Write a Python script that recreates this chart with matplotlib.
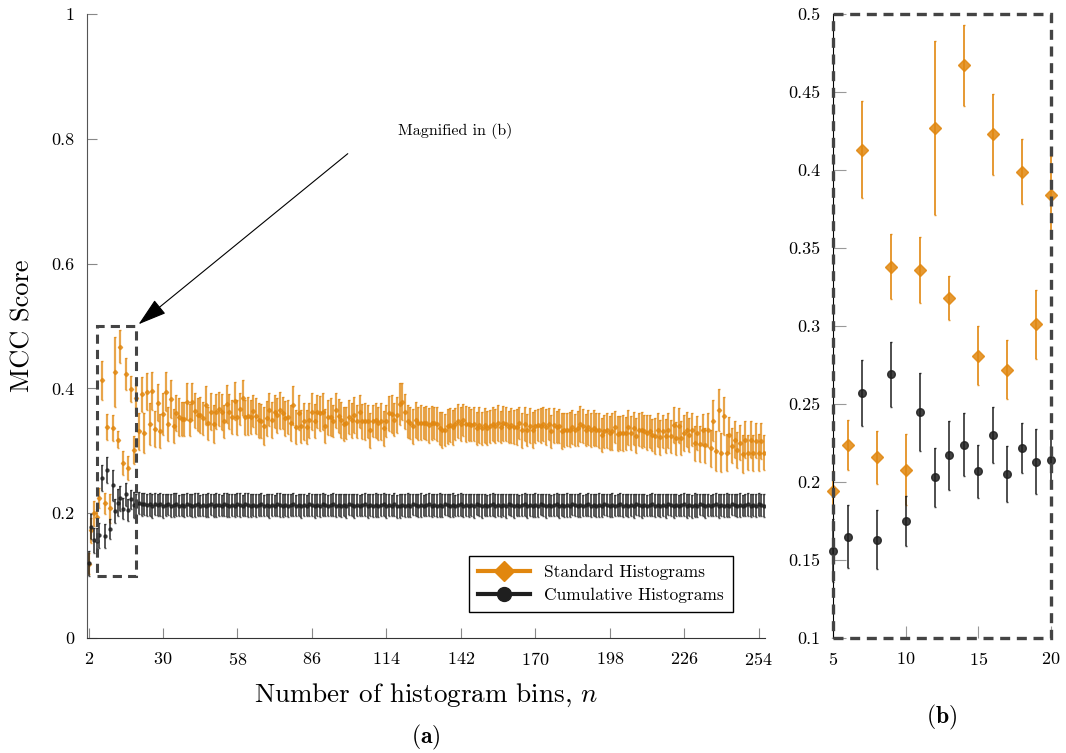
import numpy as np
import matplotlib
matplotlib.use("Agg")
import matplotlib.pyplot as plt
from matplotlib.lines import Line2D
from matplotlib.patches import Rectangle

plt.rcParams['font.family'] = 'serif'
plt.rcParams['font.serif'] = ['cmr10']
plt.rcParams['mathtext.fontset'] = 'cm'
plt.rcParams['axes.formatter.use_mathtext'] = True

# Standard histograms: mean MCC for n = 2, 3, ..., 256
std_mean = [
    0.119, 0.173, 0.200, 0.194, 0.224, 0.413, 0.216, 0.338, 0.208, 0.336,
    0.427, 0.318, 0.467, 0.281, 0.423, 0.272, 0.399, 0.301, 0.384,
    0.331, 0.391, 0.329, 0.395, 0.343, 0.396, 0.335, 0.377, 0.332, 0.359,
    0.395, 0.343, 0.383, 0.340,
    0.360, 0.354, 0.351, 0.351, 0.379, 0.349, 0.379, 0.364, 0.358, 0.358,
    0.352, 0.373, 0.344, 0.363, 0.343, 0.363, 0.367, 0.362, 0.347, 0.375,
    0.363, 0.354, 0.380, 0.354, 0.367, 0.385, 0.354, 0.356, 0.354, 0.364,
    0.356, 0.349,
    0.348, 0.340, 0.352, 0.366, 0.349, 0.363, 0.357, 0.365, 0.361, 0.352,
    0.354, 0.345, 0.373, 0.338, 0.361, 0.339, 0.347, 0.338, 0.349, 0.363,
    0.348, 0.363, 0.360, 0.363, 0.340, 0.354, 0.354, 0.348, 0.365, 0.356,
    0.349, 0.343, 0.345, 0.354, 0.349, 0.357, 0.347, 0.363, 0.347, 0.347,
    0.347, 0.333, 0.348,
    0.349, 0.344, 0.347, 0.336, 0.348, 0.360, 0.359, 0.350, 0.357, 0.375,
    0.379, 0.363, 0.347, 0.345, 0.339, 0.350, 0.344, 0.345, 0.345, 0.345,
    0.341, 0.345, 0.345, 0.343, 0.336, 0.333, 0.333, 0.339, 0.341, 0.338,
    0.343, 0.348, 0.343, 0.349, 0.343, 0.343, 0.341, 0.343, 0.336, 0.341,
    0.336, 0.341, 0.337, 0.339, 0.343, 0.340, 0.345, 0.338, 0.344,
    0.343, 0.338, 0.341, 0.338, 0.338, 0.345, 0.333, 0.343, 0.333, 0.340,
    0.334, 0.339, 0.341, 0.340, 0.343, 0.338, 0.343, 0.331, 0.341, 0.338,
    0.340, 0.332, 0.333, 0.334, 0.334, 0.338, 0.333, 0.336, 0.343, 0.340,
    0.333, 0.338, 0.333, 0.336, 0.334, 0.333, 0.325, 0.331, 0.333, 0.328,
    0.331, 0.338, 0.327, 0.328, 0.328, 0.328, 0.338,
    0.329, 0.336, 0.324, 0.334, 0.333, 0.332, 0.329, 0.331, 0.325, 0.324,
    0.333, 0.322, 0.331, 0.324, 0.333, 0.323, 0.341, 0.320, 0.340, 0.320,
    0.329, 0.334, 0.325, 0.334, 0.312, 0.329, 0.311, 0.333, 0.309, 0.333,
    0.304, 0.348, 0.300, 0.365, 0.297, 0.356, 0.297, 0.325, 0.308, 0.318,
    0.301, 0.313, 0.295, 0.318, 0.297, 0.318, 0.297, 0.316, 0.297, 0.316,
    0.297,
]
std_err = [
    0.017, 0.020, 0.020, 0.013, 0.016, 0.031, 0.017, 0.021, 0.023, 0.021,
    0.056, 0.014, 0.026, 0.019, 0.026, 0.019, 0.021, 0.022, 0.025,
    0.030, 0.028, 0.032, 0.030, 0.034, 0.031, 0.029, 0.030, 0.027, 0.033,
    0.031, 0.028, 0.030, 0.027, 0.029, 0.031, 0.027, 0.028, 0.030, 0.026,
    0.030, 0.028, 0.027, 0.029, 0.026, 0.031, 0.027, 0.029, 0.030, 0.028,
    0.027, 0.029, 0.026, 0.030, 0.028, 0.027, 0.031, 0.028, 0.026, 0.029,
    0.028, 0.030, 0.027, 0.026, 0.029, 0.028, 0.027, 0.030, 0.028, 0.026,
    0.029, 0.027, 0.028, 0.030, 0.026, 0.028, 0.027, 0.029, 0.031, 0.027,
    0.028, 0.026, 0.029, 0.027, 0.028, 0.030, 0.027, 0.026, 0.028, 0.029,
    0.027, 0.028, 0.030, 0.026, 0.028, 0.027, 0.029, 0.028, 0.026, 0.027,
    0.028, 0.029, 0.027, 0.026, 0.028, 0.030, 0.027, 0.028, 0.026, 0.028,
    0.027, 0.029, 0.028, 0.026, 0.028, 0.030, 0.027, 0.029, 0.033, 0.030,
    0.028, 0.027, 0.026, 0.028, 0.029, 0.027, 0.028, 0.026, 0.027, 0.028,
    0.027, 0.026, 0.028, 0.027, 0.029, 0.026, 0.028, 0.027, 0.028, 0.026,
    0.027, 0.028, 0.026, 0.029, 0.027, 0.026, 0.028, 0.027, 0.029, 0.026,
    0.028, 0.027, 0.026, 0.028, 0.027, 0.029, 0.026, 0.028, 0.027, 0.026,
    0.028, 0.027, 0.029, 0.026, 0.028, 0.027, 0.026, 0.028, 0.029, 0.027,
    0.026, 0.028, 0.027, 0.029, 0.026, 0.027, 0.028, 0.026, 0.027, 0.029,
    0.027, 0.026, 0.028, 0.027, 0.026, 0.028, 0.029, 0.027, 0.026, 0.028,
    0.027, 0.029, 0.026, 0.028, 0.027, 0.026, 0.028, 0.027, 0.029, 0.026,
    0.028, 0.027, 0.029, 0.026, 0.028, 0.027, 0.026, 0.028, 0.027, 0.029,
    0.026, 0.028, 0.027, 0.026, 0.029, 0.027, 0.028, 0.026, 0.027, 0.028,
    0.027, 0.029, 0.026, 0.028, 0.027, 0.029, 0.028, 0.027, 0.026, 0.028,
    0.027, 0.029, 0.026, 0.028, 0.027, 0.030, 0.033, 0.032, 0.034, 0.031,
    0.031, 0.030, 0.029, 0.028, 0.030, 0.029, 0.028, 0.030, 0.029, 0.028,
    0.030, 0.029, 0.028, 0.030, 0.029, 0.028,
]

# Cumulative histograms: mean MCC for n = 2, 3, ..., 256
cum_mean = [
    0.120, 0.178, 0.157, 0.156, 0.165, 0.257, 0.163, 0.269, 0.175, 0.245,
    0.203, 0.217, 0.224, 0.207, 0.230, 0.205, 0.222, 0.213, 0.214,
    0.216, 0.214, 0.215, 0.213, 0.214, 0.212, 0.215, 0.213, 0.214, 0.212,
    0.213, 0.214, 0.212, 0.213, 0.214, 0.212, 0.213, 0.212, 0.214, 0.213,
    0.212, 0.213, 0.214, 0.212, 0.213, 0.212, 0.213, 0.214, 0.212, 0.213,
    0.213, 0.212, 0.214, 0.213, 0.212, 0.213, 0.212, 0.214, 0.213, 0.212,
    0.214, 0.213, 0.212, 0.213, 0.212, 0.213, 0.214, 0.212, 0.213, 0.212,
    0.213, 0.212, 0.214, 0.213, 0.212, 0.213, 0.212, 0.213, 0.214, 0.212,
    0.213, 0.212, 0.213, 0.212, 0.214, 0.213, 0.212, 0.213, 0.212, 0.214,
    0.213, 0.212, 0.213, 0.214, 0.212, 0.213, 0.212, 0.213, 0.212, 0.214,
    0.213, 0.212, 0.213, 0.212, 0.213, 0.214, 0.212, 0.213, 0.212, 0.213,
    0.212, 0.213, 0.214, 0.212, 0.213, 0.212, 0.214, 0.211, 0.212, 0.213,
    0.212, 0.213, 0.212, 0.214, 0.213, 0.212, 0.213, 0.212, 0.213, 0.214,
    0.212, 0.213, 0.212, 0.213, 0.212, 0.214, 0.213, 0.212, 0.213, 0.212,
    0.213, 0.214, 0.212, 0.213, 0.212, 0.213, 0.212, 0.214, 0.213, 0.212,
    0.213, 0.212, 0.213, 0.214, 0.212, 0.213, 0.212, 0.213, 0.212, 0.214,
    0.213, 0.212, 0.213, 0.212, 0.213, 0.214, 0.212, 0.213, 0.212, 0.213,
    0.212, 0.214, 0.213, 0.212, 0.213, 0.212, 0.213, 0.214, 0.212, 0.213,
    0.212, 0.213, 0.212, 0.214, 0.213, 0.212, 0.213, 0.212, 0.213, 0.214,
    0.212, 0.213, 0.212, 0.213, 0.212, 0.214, 0.213, 0.212, 0.213, 0.212,
    0.213, 0.214, 0.212, 0.213, 0.212, 0.213, 0.212, 0.214, 0.213, 0.212,
    0.213, 0.212, 0.213, 0.214, 0.212, 0.213, 0.212, 0.213, 0.212, 0.214,
    0.213, 0.212, 0.213, 0.212, 0.213, 0.214, 0.212, 0.213, 0.211, 0.213,
    0.212, 0.214, 0.213, 0.212, 0.213, 0.212, 0.213, 0.214, 0.212, 0.213,
    0.212, 0.213, 0.212, 0.214, 0.213, 0.212, 0.213, 0.212, 0.213, 0.214,
    0.212, 0.213, 0.212, 0.214, 0.213, 0.212,
]
cum_err = [
    0.020, 0.020, 0.020, 0.020, 0.020, 0.021, 0.019, 0.021, 0.016, 0.025,
    0.019, 0.022, 0.020, 0.017, 0.018, 0.018, 0.016, 0.021, 0.017,
    0.018, 0.019, 0.018, 0.017, 0.018, 0.019, 0.018, 0.017, 0.018, 0.019,
    0.018, 0.017, 0.018, 0.019, 0.018, 0.017, 0.018, 0.018, 0.019, 0.017,
    0.018, 0.019, 0.018, 0.017, 0.018, 0.018, 0.019, 0.017, 0.018, 0.019,
    0.018, 0.017, 0.018, 0.019, 0.018, 0.017, 0.018, 0.018, 0.019, 0.017,
    0.018, 0.019, 0.018, 0.017, 0.018, 0.018, 0.019, 0.017, 0.018, 0.019,
    0.018, 0.017, 0.018, 0.019, 0.018, 0.017, 0.018, 0.018, 0.019, 0.017,
    0.018, 0.019, 0.018, 0.017, 0.018, 0.018, 0.019, 0.017, 0.018, 0.019,
    0.018, 0.017, 0.018, 0.019, 0.018, 0.017, 0.018, 0.018, 0.019, 0.017,
    0.018, 0.019, 0.018, 0.017, 0.018, 0.018, 0.019, 0.017, 0.018, 0.019,
    0.018, 0.017, 0.018, 0.019, 0.018, 0.017, 0.018, 0.018, 0.019, 0.017,
    0.018, 0.019, 0.018, 0.017, 0.018, 0.018, 0.019, 0.017, 0.018, 0.019,
    0.018, 0.017, 0.018, 0.019, 0.018, 0.017, 0.018, 0.018, 0.019, 0.017,
    0.018, 0.019, 0.018, 0.017, 0.018, 0.018, 0.019, 0.017, 0.018, 0.019,
    0.018, 0.017, 0.018, 0.019, 0.018, 0.017, 0.018, 0.018, 0.019, 0.017,
    0.018, 0.019, 0.018, 0.017, 0.018, 0.018, 0.019, 0.017, 0.018, 0.019,
    0.018, 0.017, 0.018, 0.019, 0.018, 0.017, 0.018, 0.018, 0.019, 0.017,
    0.018, 0.019, 0.018, 0.017, 0.018, 0.018, 0.019, 0.017, 0.018, 0.019,
    0.018, 0.017, 0.018, 0.019, 0.018, 0.017, 0.018, 0.018, 0.019, 0.017,
    0.018, 0.019, 0.018, 0.017, 0.018, 0.018, 0.019, 0.017, 0.018, 0.019,
    0.018, 0.017, 0.018, 0.019, 0.018, 0.017, 0.018, 0.018, 0.019, 0.017,
    0.018, 0.019, 0.018, 0.017, 0.018, 0.018, 0.019, 0.017, 0.018, 0.019,
    0.018, 0.017, 0.018, 0.019, 0.018, 0.017, 0.018, 0.018, 0.019, 0.017,
    0.018, 0.019, 0.018, 0.017, 0.018, 0.018, 0.019, 0.017, 0.018, 0.019,
    0.018, 0.017, 0.018, 0.019, 0.018, 0.018,
]

xticks_a = [2, 30, 58, 86, 114, 142, 170, 198, 226, 254]
yticks_a = [0, 0.2, 0.4, 0.6, 0.8, 1]
ylabels_a = ["0", "0.2", "0.4", "0.6", "0.8", "1"]
xticks_b = [5, 10, 15, 20]
yticks_b = [0.1, 0.15, 0.2, 0.25, 0.3, 0.35, 0.4, 0.45, 0.5]
ylabels_b = ["0.1", "0.15", "0.2", "0.25", "0.3", "0.35", "0.4", "0.45", "0.5"]

ORANGE = '#E1870F'
BLACK = '#1f1f1f'

ms_ = min(len(std_mean), len(std_err))
mc_ = min(len(cum_mean), len(cum_err))
n_s = np.arange(2, 2 + ms_)
n_c = np.arange(2, 2 + mc_)
sm, se = np.array(std_mean[:ms_]), np.array(std_err[:ms_])
cm, ce = np.array(cum_mean[:mc_]), np.array(cum_err[:mc_])

fig = plt.figure(figsize=(10.66, 7.53), dpi=100)
ax = fig.add_axes([0.0816, 0.1527, 0.636, 0.8287])
axb = fig.add_axes([0.7814, 0.1527, 0.2045, 0.8287])

# (a) full range
ax.errorbar(n_s, sm, yerr=se, fmt='D', ms=2.2, color=ORANGE, ecolor=ORANGE,
            elinewidth=1.6, capsize=1, alpha=0.75, zorder=2)
ax.errorbar(n_c, cm, yerr=ce, fmt='o', ms=2.2, color=BLACK, ecolor=BLACK,
            elinewidth=1.4, capsize=1, alpha=0.75, zorder=3)
ax.set_xlim(1.4, 256.4)
ax.set_ylim(0, 1)
ax.set_xticks(xticks_a)
ax.set_yticks(yticks_a)
ax.set_yticklabels(ylabels_a)
for s in ['top', 'right']:
    ax.spines[s].set_visible(False)
ax.spines['left'].set_color('#555555')
ax.spines['bottom'].set_color('#333333')
ax.tick_params(direction='in', length=7, color='#888888', labelsize=13, pad=9)
ax.set_ylabel("MCC Score", fontsize=19, labelpad=12)
ax.set_xlabel("Number of histogram bins, $n$", fontsize=19.5, labelpad=10)
ax.text(0.5, -0.159, r"$\mathbf{(a)}$", transform=ax.transAxes, ha='center',
        va='center', fontsize=17)

ax.add_patch(Rectangle((5, 0.1), 15, 0.4, fill=False, ls=(0, (3, 2)),
                       lw=2.2, ec='#444444', zorder=4))
ax.annotate("", xy=(20, 0.5), xytext=(100.3, 0.779),
            arrowprops=dict(arrowstyle='-|>,head_length=1.8,head_width=0.55',
                            color='black', lw=0.8))
ax.text(139.8, 0.8125, "Magnified in (b)", ha='center', va='center', fontsize=11.5)

handles = [Line2D([], [], color=ORANGE, lw=3, marker='D', ms=10),
           Line2D([], [], color=BLACK, lw=3, marker='o', ms=10)]
leg = ax.legend(handles, ["Standard Histograms", "Cumulative Histograms"],
                loc='lower right', bbox_to_anchor=(0.965, 0.028), fontsize=12.5,
                fancybox=False, framealpha=1, edgecolor='black',
                handlelength=3.0, borderpad=0.5, labelspacing=0.45)
leg.get_frame().set_linewidth(1.0)

# (b) magnified
sel_s = (n_s >= 5) & (n_s <= 20)
sel_c = (n_c >= 5) & (n_c <= 20)
axb.errorbar(n_s[sel_s], sm[sel_s], yerr=se[sel_s], fmt='D', ms=6, color=ORANGE,
             ecolor=ORANGE, elinewidth=1.4, capsize=1, alpha=0.85,
             clip_on=False, zorder=2)
axb.errorbar(n_c[sel_c], cm[sel_c], yerr=ce[sel_c], fmt='o', ms=5.5, color=BLACK,
             ecolor=BLACK, elinewidth=1.3, capsize=1, alpha=0.85,
             clip_on=False, zorder=3)
axb.set_xlim(5, 20)
axb.set_ylim(0.1, 0.5)
axb.set_xticks(xticks_b)
axb.set_yticks(yticks_b)
axb.set_yticklabels(ylabels_b)
for s in ['top', 'right', 'bottom']:
    axb.spines[s].set_visible(False)
axb.spines['left'].set_color('black')
axb.tick_params(direction='in', length=9, color='#999999', labelsize=13, pad=9)
axb.add_patch(Rectangle((0, 0), 1, 1, transform=axb.transAxes, fill=False,
                        ls=(0, (3, 2)), lw=2.4, ec='#444444', clip_on=False,
                        zorder=5))
axb.text(0.5, -0.127, r"$\mathbf{(b)}$", transform=axb.transAxes, ha='center',
         va='center', fontsize=17)

fig.savefig("out.png", dpi=100)
